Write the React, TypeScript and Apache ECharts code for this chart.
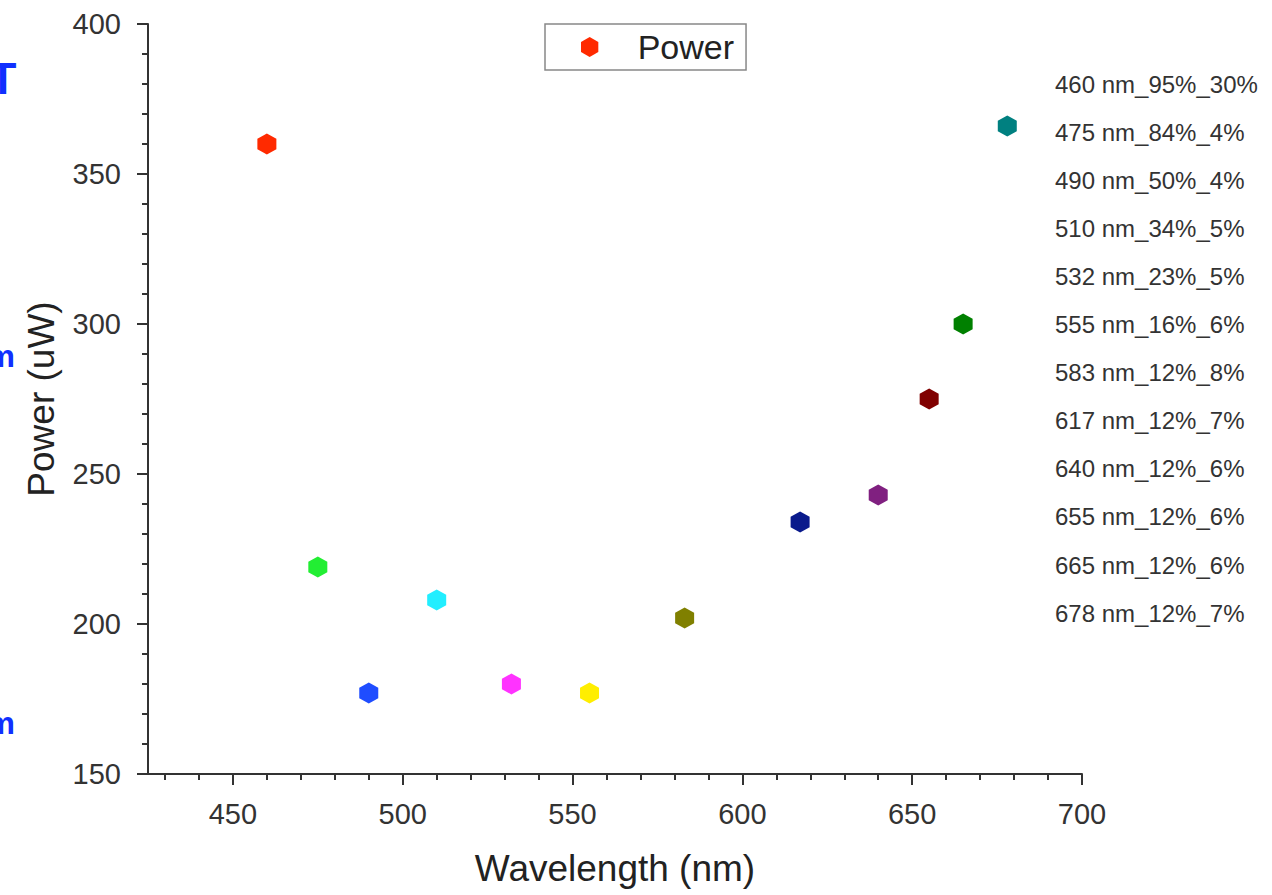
import React, { useEffect, useRef } from "react";
import * as echarts from "echarts";

const wavelengths = [460, 475, 490, 510, 532, 555, 583, 617, 640, 655, 665, 678];
const powers = [360, 219, 177, 208, 180, 177, 202, 234, 243, 275, 300, 366];
const pointColors = [
  "#ff2a00", "#22ee33", "#1f4dff", "#22eeff", "#ff33ff", "#ffee00",
  "#808000", "#0a1a8c", "#802080", "#800000", "#008000", "#008080",
];
const sideLabels = [
  "460 nm_95%_30%", "475 nm_84%_4%", "490 nm_50%_4%", "510 nm_34%_5%",
  "532 nm_23%_5%", "555 nm_16%_6%", "583 nm_12%_8%", "617 nm_12%_7%",
  "640 nm_12%_6%", "655 nm_12%_6%", "665 nm_12%_6%", "678 nm_12%_7%",
];
const xMajorTicks = [450, 500, 550, 600, 650, 700];
const xMinorTicks = [430, 440, 460, 470, 480, 490, 510, 520, 530, 540, 560, 570, 580, 590, 610, 620, 630, 640, 660, 670, 680, 690];

const HEX = "path://M0,-10L8.66,-5L8.66,5L0,10L-8.66,5L-8.66,-5Z";
const FONT = "'Liberation Sans', Arial, sans-serif";

export default function App() {
  const ref = useRef<HTMLDivElement>(null);
  useEffect(() => {
    if (!ref.current) return;
    const chart = echarts.init(ref.current, undefined, { renderer: "svg" });
    const axisColor = "#333";
    const graphics: any[] = sideLabels.map((t, i) => ({
      type: "text",
      left: 1055,
      top: 85 + i * 48.1 - 13,
      style: { text: t, font: `24px ${FONT}`, fill: "#333" },
    }));
    graphics.push(
      { type: "text", x: 3, y: 78, style: { text: "T", font: `bold 44px ${FONT}`, fill: "#1030ff", align: "center", verticalAlign: "middle" } },
      { type: "text", x: 15, y: 356, style: { text: "m", font: `bold 32px ${FONT}`, fill: "#1030ff", align: "right", verticalAlign: "middle" } },
      { type: "text", x: 15, y: 723, style: { text: "m", font: `bold 32px ${FONT}`, fill: "#1030ff", align: "right", verticalAlign: "middle" } }
    );
    chart.setOption({
      animation: false,
      backgroundColor: "#fff",
      textStyle: { fontFamily: FONT },
      grid: { left: 148, right: 190, top: 24, bottom: 121, containLabel: false },
      legend: {
        left: 545,
        top: 24,
        padding: [6, 12, 6, 36],
        borderColor: "#888",
        borderWidth: 1.5,
        itemWidth: 18,
        itemHeight: 20,
        icon: HEX,
        textStyle: { fontSize: 34, color: "#222", padding: [0, 0, 0, 34] },
        data: ["Power"],
      },
      xAxis: [
        {
          type: "value",
          min: 425,
          max: 700,
          name: "Wavelength (nm)",
          nameLocation: "middle",
          nameGap: 76,
          nameTextStyle: { fontSize: 37, color: "#222" },
          axisLine: { show: true, lineStyle: { color: axisColor, width: 2 } },
          axisTick: { show: true, customValues: xMajorTicks, length: 11, lineStyle: { color: axisColor, width: 2 } },
          axisLabel: { customValues: xMajorTicks, fontSize: 29, color: "#333", margin: 25 },
          splitLine: { show: false },
        },
        {
          type: "value",
          min: 425,
          max: 700,
          position: "bottom",
          axisLine: { show: false },
          axisTick: { show: true, customValues: xMinorTicks, length: 6, lineStyle: { color: axisColor, width: 2 } },
          axisLabel: { show: false },
          splitLine: { show: false },
        },
      ],
      yAxis: {
        type: "value",
        min: 150,
        max: 400,
        interval: 50,
        name: "Power (uW)",
        nameLocation: "middle",
        nameGap: 88,
        nameTextStyle: { fontSize: 37, color: "#222" },
        axisLine: { show: true, lineStyle: { color: axisColor, width: 2 } },
        axisTick: { show: true, length: 11, lineStyle: { color: axisColor, width: 2 } },
        minorTick: { show: true, splitNumber: 5, length: 6, lineStyle: { color: axisColor, width: 2 } },
        axisLabel: { fontSize: 29, color: "#333", margin: 27 },
        splitLine: { show: false },
      },
      graphic: graphics,
      series: [
        {
          name: "Power",
          type: "scatter",
          symbol: HEX,
          symbolSize: [19, 21],
          itemStyle: { color: pointColors[0], opacity: 1 },
          data: wavelengths.map((w, i) => ({
            value: [w, powers[i]],
            itemStyle: { color: pointColors[i], opacity: 1 },
          })),
        },
      ],
    });
    return () => chart.dispose();
  }, []);
  return <div ref={ref} style={{ width: 1272, height: 895, position: "absolute", left: 0, top: 0 }} />;
}
